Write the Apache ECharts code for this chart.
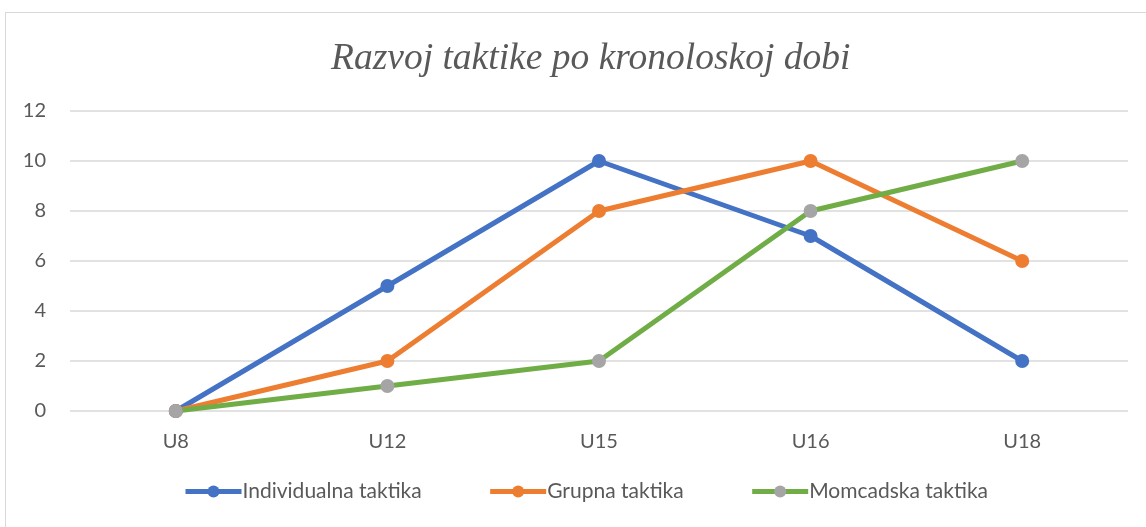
<!DOCTYPE html>
<html>
<head>
<meta charset="utf-8">
<script src="https://cdn.jsdelivr.net/npm/echarts@6/dist/echarts.min.js"></script>
<style>
  html, body { margin: 0; padding: 0; background: #fff; }
  #chart { width: 1146px; height: 527px; }
  #frame { position: absolute; left: 5px; top: 12px; width: 1160px; height: 540px; border: 1px solid #d9d9d9; pointer-events: none; }
</style>
</head>
<body>
<div id="chart"></div>
<div id="frame"></div>
<script>
  // podaci
  var categories = ['U8', 'U12', 'U15', 'U16', 'U18']
  var individualna = [0, 5, 10, 7, 2]
  var grupna = [0, 2, 8, 10, 6]
  var momcadska = [0, 1, 2, 8, 10]
  var seriesNames = ['Individualna taktika', 'Grupna taktika', 'Momcadska taktika']

  var chart = echarts.init(document.getElementById('chart'))

  function makeLine(name, data, lineColor, dotColor) {
    return {
      name: name,
      type: 'line',
      data: data,
      symbol: 'circle',
      symbolSize: 14,
      lineStyle: { color: lineColor, width: 5 },
      itemStyle: { color: dotColor },
      emphasis: { disabled: true }
    }
  }

  var option = {
    animation: false,
    title: {
      text: 'Razvoj taktike po kronoloskoj dobi',
      left: 326,
      top: 35,
      textStyle: {
        fontFamily: 'Liberation Serif',
        fontStyle: 'italic',
        fontWeight: 'normal',
        fontSize: 37.5,
        color: '#595959'
      }
    },
    legend: {
      bottom: 20,
      left: 178,
      itemWidth: 56,
      itemHeight: 15,
      itemGap: 66,
      lineStyle: { width: 5 },
      textStyle: { fontFamily: 'Lato', fontSize: 21, color: '#595959', padding: [0, 0, 0, -4] },
      data: seriesNames
    },
    grid: { left: 70, right: 18, top: 111, bottom: 116 },
    xAxis: {
      type: 'category',
      data: categories,
      boundaryGap: true,
      axisLine: { show: false },
      axisTick: { show: false },
      axisLabel: { fontFamily: 'Lato', fontSize: 20, color: '#595959', margin: 21 }
    },
    yAxis: {
      type: 'value',
      min: 0,
      max: 12,
      interval: 2,
      axisLine: { show: false },
      axisTick: { show: false },
      axisLabel: { fontFamily: 'Lato', fontSize: 20, color: '#595959', margin: 24 },
      splitLine: { lineStyle: { color: '#d9d9d9', width: 1.5 } }
    },
    series: [
      makeLine(seriesNames[0], individualna, '#4472C4', '#4472C4'),
      makeLine(seriesNames[1], grupna, '#ED7D31', '#ED7D31'),
      makeLine(seriesNames[2], momcadska, '#70AD47', '#A5A5A5')
    ]
  }
  chart.setOption(option)
</script>
</body>
</html>
